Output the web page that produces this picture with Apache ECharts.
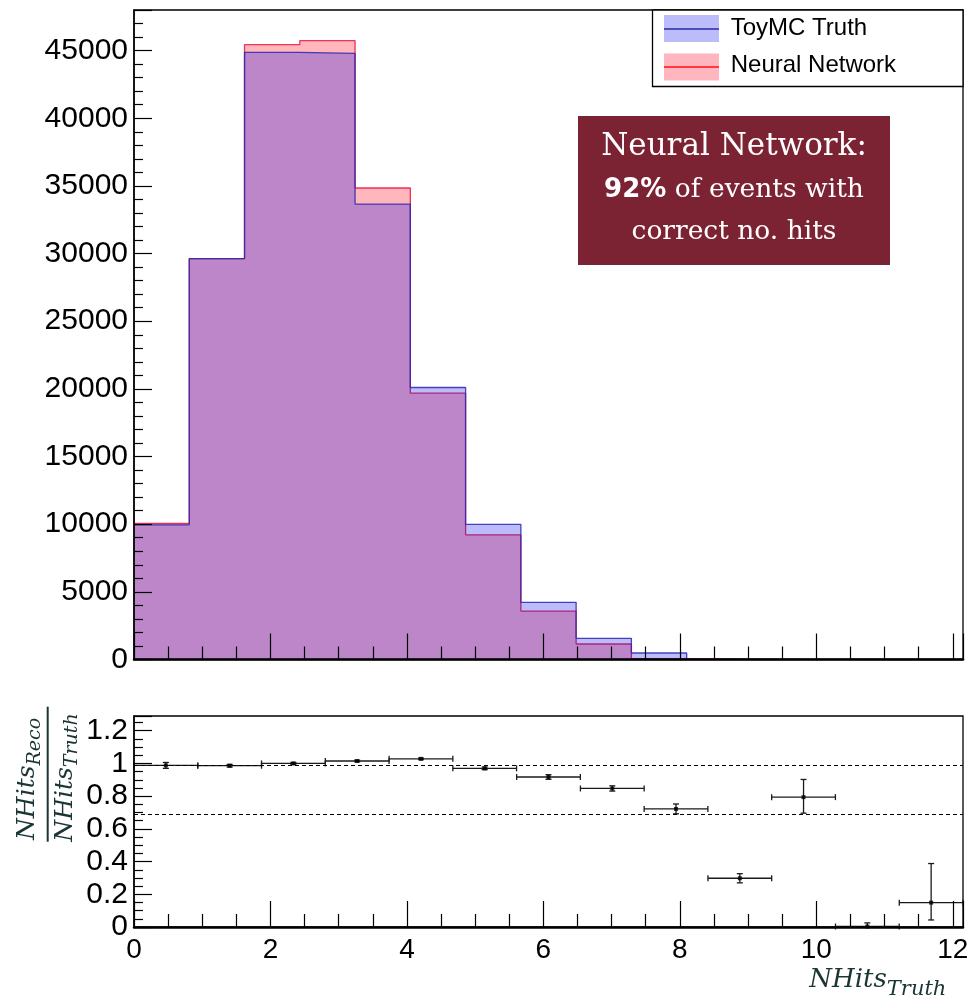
<!DOCTYPE html>
<html><head><meta charset="utf-8">
<script src="https://cdn.jsdelivr.net/npm/echarts@6/dist/echarts.min.js"></script>
<style>html,body{margin:0;padding:0;background:#fff}#c{width:973px;height:1004px}</style>
</head><body><div id="c"></div>
<script>
// ---------- data ----------
const histEdges = [0, 0.81, 1.62, 2.43, 3.24, 4.05, 4.86, 5.67, 6.48, 7.29, 8.10, 8.91, 9.72, 10.53, 11.34, 12.15];
const truthCounts = [9950, 29630, 44870, 44790, 33660, 20100, 9985, 4224, 1566, 480, 30, 8, 3, 1, 0];
const nnCounts    = [10050, 29630, 45435, 45730, 34845, 19680, 9217, 3582, 1145, 60, 20, 5, 2, 1, 0];

const ratioX    = [0.467, 1.402, 2.336, 3.271, 4.206, 5.140, 6.075, 7.010, 7.944, 8.879, 9.813, 10.748, 11.683];
const ratioXErr = [0.467, 0.467, 0.467, 0.467, 0.467, 0.467, 0.467, 0.467, 0.467, 0.467, 0.467, 0.467, 0.467];
const ratioY    = [0.988, 0.986, 1.000, 1.015, 1.028, 0.970, 0.917, 0.847, 0.722, 0.298, 0.794, 0.003, 0.149];
const ratioErrLo= [0.018, 0.008, 0.006, 0.005, 0.005, 0.008, 0.014, 0.016, 0.030, 0.028, 0.098, 0.003, 0.106];
const ratioErrHi= [0.018, 0.008, 0.006, 0.005, 0.005, 0.008, 0.014, 0.016, 0.030, 0.028, 0.108, 0.022, 0.239];
const refLines  = [0.988, 0.690];

const topYTicks = {min: 0, max: 48000, interval: 5000};
const botYTicks = {min: 0, max: 1.29, interval: 0.2};
const xRange = {min: 0, max: 12.15, interval: 2};

// ---------- helpers ----------
function stepData(edges, vals) {
  const d = vals.map((v, i) => [edges[i], v]);
  d.push([edges[edges.length - 1], vals[vals.length - 1]]);
  return d;
}
const mctx = document.createElement('canvas').getContext('2d');
function tw(font, text) { mctx.font = font; return mctx.measureText(text).width; }

const chart = echarts.init(document.getElementById('c'), null, {renderer: 'canvas'});

const titleColor = '#1b3434';
const mainF = 'italic 25px "DejaVu Serif"';
const subF = 'italic 19px "DejaVu Serif"';
const xMainF = 'italic 26px "DejaVu Serif"';
const xSubF = 'italic 21px "DejaVu Serif"';

function txt(x, y, text, font, fill, align) {
  return {type: 'text', x: x, y: y, z: 100,
    style: {text: text, font: font, fill: fill, align: align || 'left', verticalAlign: 'middle',
            textAlign: align || 'left', textVerticalAlign: 'middle'}};
}

// fraction y title (rotated)
const numStart = -66, denStart = -67.7;
const yTitle = {
  type: 'group', x: 47.7, y: 774, rotation: Math.PI / 2, z: 100,
  children: [
    {type: 'line', shape: {x1: -67.7, y1: 0, x2: 67.3, y2: 0}, style: {stroke: titleColor, lineWidth: 2}},
    txt(numStart, -20.5, 'NHits', mainF, titleColor),
    txt(numStart + tw(mainF, 'NHits'), -12.8, 'Reco', subF, titleColor),
    txt(denStart, 17.7, 'NHits', mainF, titleColor),
    txt(denStart + tw(mainF, 'NHits'), 24.8, 'Truth', subF, titleColor)
  ]
};

// x title
const xTitleX = 809.3;
const xTitle = [
  txt(xTitleX, 980, 'NHits', xMainF, titleColor),
  txt(xTitleX + tw(xMainF, 'NHits'), 989.5, 'Truth', xSubF, titleColor)
];

// legend
const legendFont = '24px "Liberation Sans"';
const legend = [
  {type: 'rect', z: 100, shape: {x: 652.5, y: 10, width: 310.5, height: 76.5},
   style: {fill: '#fff', stroke: '#000', lineWidth: 1.3}},
  {type: 'rect', z: 101, shape: {x: 664, y: 15, width: 55, height: 27}, style: {fill: '#bcbcfa'}},
  {type: 'line', z: 102, shape: {x1: 664, y1: 29, x2: 719, y2: 29}, style: {stroke: '#2a2aa0', lineWidth: 1.5}},
  {type: 'rect', z: 101, shape: {x: 664, y: 53.5, width: 55, height: 27}, style: {fill: '#ffb6bf'}},
  {type: 'line', z: 102, shape: {x1: 664, y1: 67, x2: 719, y2: 67}, style: {stroke: '#ff1010', lineWidth: 1.5}},
  txt(730.7, 28.5, 'ToyMC Truth', legendFont, '#000'),
  txt(730.7, 65, 'Neural Network', legendFont, '#000')
];

// text box
const boxCx = 734;
const l2a = '92%', l2b = ' of events with';
const l2aF = 'bold 26px "DejaVu Sans"', l2bF = '26.5px "DejaVu Serif"';
const l2w = tw(l2aF, l2a) + tw(l2bF, l2b);
const l2x = boxCx - l2w / 2;
const textBox = [
  {type: 'rect', z: 100, shape: {x: 578, y: 116, width: 312, height: 149}, style: {fill: '#7b2233'}},
  txt(boxCx, 147, 'Neural Network:', '31px "DejaVu Serif"', '#fff', 'center'),
  txt(l2x, 190, l2a, l2aF, '#fff'),
  txt(l2x + tw(l2aF, l2a), 190, l2b, l2bF, '#fff'),
  txt(boxCx, 232, 'correct no. hits', '26.5px "DejaVu Serif"', '#fff', 'center')
];

const axisFont = '"Liberation Sans", Arial, sans-serif';
const plainNum = v => String(+v.toFixed(6));
function xAx(gi, showLabels) {
  return {
    type: 'value', gridIndex: gi, min: xRange.min, max: xRange.max, interval: xRange.interval, z: 10,
    axisLine: {show: true, onZero: false, lineStyle: {color: '#000', width: 2.5}},
    axisTick: {show: true, inside: true, length: 26, lineStyle: {color: '#000', width: 1.2}},
    minorTick: {show: true, splitNumber: 4, length: 13, lineStyle: {color: '#000', width: 1.2}},
    splitLine: {show: false}, minorSplitLine: {show: false},
    axisLabel: {show: showLabels, color: '#000', fontSize: 28, fontFamily: axisFont, margin: 9,
                showMaxLabel: false, showMinLabel: true, formatter: plainNum}
  };
}
function yAx(gi, r, split, fs) {
  return {
    type: 'value', gridIndex: gi, min: r.min, max: r.max, interval: r.interval, z: 10,
    axisLine: {show: true, onZero: false, lineStyle: {color: '#000', width: 1.5}},
    axisTick: {show: true, inside: true, length: 18, lineStyle: {color: '#000', width: 1.2}},
    minorTick: {show: true, splitNumber: split, length: 9, lineStyle: {color: '#000', width: 1.2}},
    splitLine: {show: false}, minorSplitLine: {show: false},
    axisLabel: {show: true, color: '#000', fontSize: fs, fontFamily: axisFont, margin: 6,
                showMaxLabel: false, showMinLabel: true, formatter: plainNum}
  };
}

const errData = ratioX.map((x, i) => [x, ratioY[i], ratioXErr[i], ratioErrLo[i], ratioErrHi[i]]);

const option = {
  animation: false,
  backgroundColor: '#fff',
  grid: [
    {left: 134, top: 10, width: 829, height: 649.5, show: true, borderColor: '#000', borderWidth: 1.3,
     backgroundColor: 'transparent', containLabel: false, outerBoundsMode: 'none'},
    {left: 134, top: 716, width: 829, height: 211, show: true, borderColor: '#000', borderWidth: 1.3,
     backgroundColor: 'transparent', containLabel: false, outerBoundsMode: 'none'}
  ],
  xAxis: [xAx(0, false), xAx(1, true)],
  yAxis: [yAx(0, topYTicks, 5, 30), yAx(1, botYTicks, 4, 30)],
  series: [
    {name: 'Neural Network', type: 'line', xAxisIndex: 0, yAxisIndex: 0, step: 'end', symbol: 'none',
     data: stepData(histEdges, nnCounts), z: 2, silent: true,
     lineStyle: {color: 'rgba(235,20,60,0.85)', width: 1.3},
     areaStyle: {color: 'rgba(255,0,25,0.285)', opacity: 1}},
    {name: 'ToyMC Truth', type: 'line', xAxisIndex: 0, yAxisIndex: 0, step: 'end', symbol: 'none',
     data: stepData(histEdges, truthCounts), z: 3, silent: true,
     lineStyle: {color: 'rgba(40,40,180,0.85)', width: 1.3},
     areaStyle: {color: 'rgba(0,0,236,0.263)', opacity: 1}},
    {name: 'ratioErr', type: 'custom', xAxisIndex: 1, yAxisIndex: 1, data: errData, z: 4, silent: true,
     encode: {x: 0, y: 1},
     renderItem: function (params, api) {
       const x = api.value(0), y = api.value(1), xe = api.value(2), lo = api.value(3), hi = api.value(4);
       const pL = api.coord([x - xe, y]), pR = api.coord([x + xe, y]);
       const pB = api.coord([x, y - lo]), pT = api.coord([x, y + hi]);
       const st = {stroke: '#1a1a1a', lineWidth: 1.3};
       const c = 3;
       return {type: 'group', children: [
         {type: 'line', shape: {x1: pL[0], y1: pL[1], x2: pR[0], y2: pR[1]}, style: st},
         {type: 'line', shape: {x1: pL[0], y1: pL[1] - c, x2: pL[0], y2: pL[1] + c}, style: st},
         {type: 'line', shape: {x1: pR[0], y1: pR[1] - c, x2: pR[0], y2: pR[1] + c}, style: st},
         {type: 'line', shape: {x1: pB[0], y1: pB[1], x2: pT[0], y2: pT[1]}, style: st},
         {type: 'line', shape: {x1: pB[0] - c, y1: pB[1], x2: pB[0] + c, y2: pB[1]}, style: st},
         {type: 'line', shape: {x1: pT[0] - c, y1: pT[1], x2: pT[0] + c, y2: pT[1]}, style: st}
       ]};
     }},
    {name: 'ratio', type: 'scatter', xAxisIndex: 1, yAxisIndex: 1, z: 5, silent: true,
     data: ratioX.map((x, i) => [x, ratioY[i]]),
     symbol: 'rect', symbolSize: 4, itemStyle: {color: '#000'},
     markLine: {silent: true, symbol: ['none', 'none'], label: {show: false},
       lineStyle: {color: '#000', type: [4, 3], width: 1},
       emphasis: {disabled: true},
       data: refLines.map(v => ({yAxis: v}))}}
  ],
  graphic: [yTitle].concat(xTitle, legend, textBox)
};
chart.setOption(option);
</script>
</body></html>
